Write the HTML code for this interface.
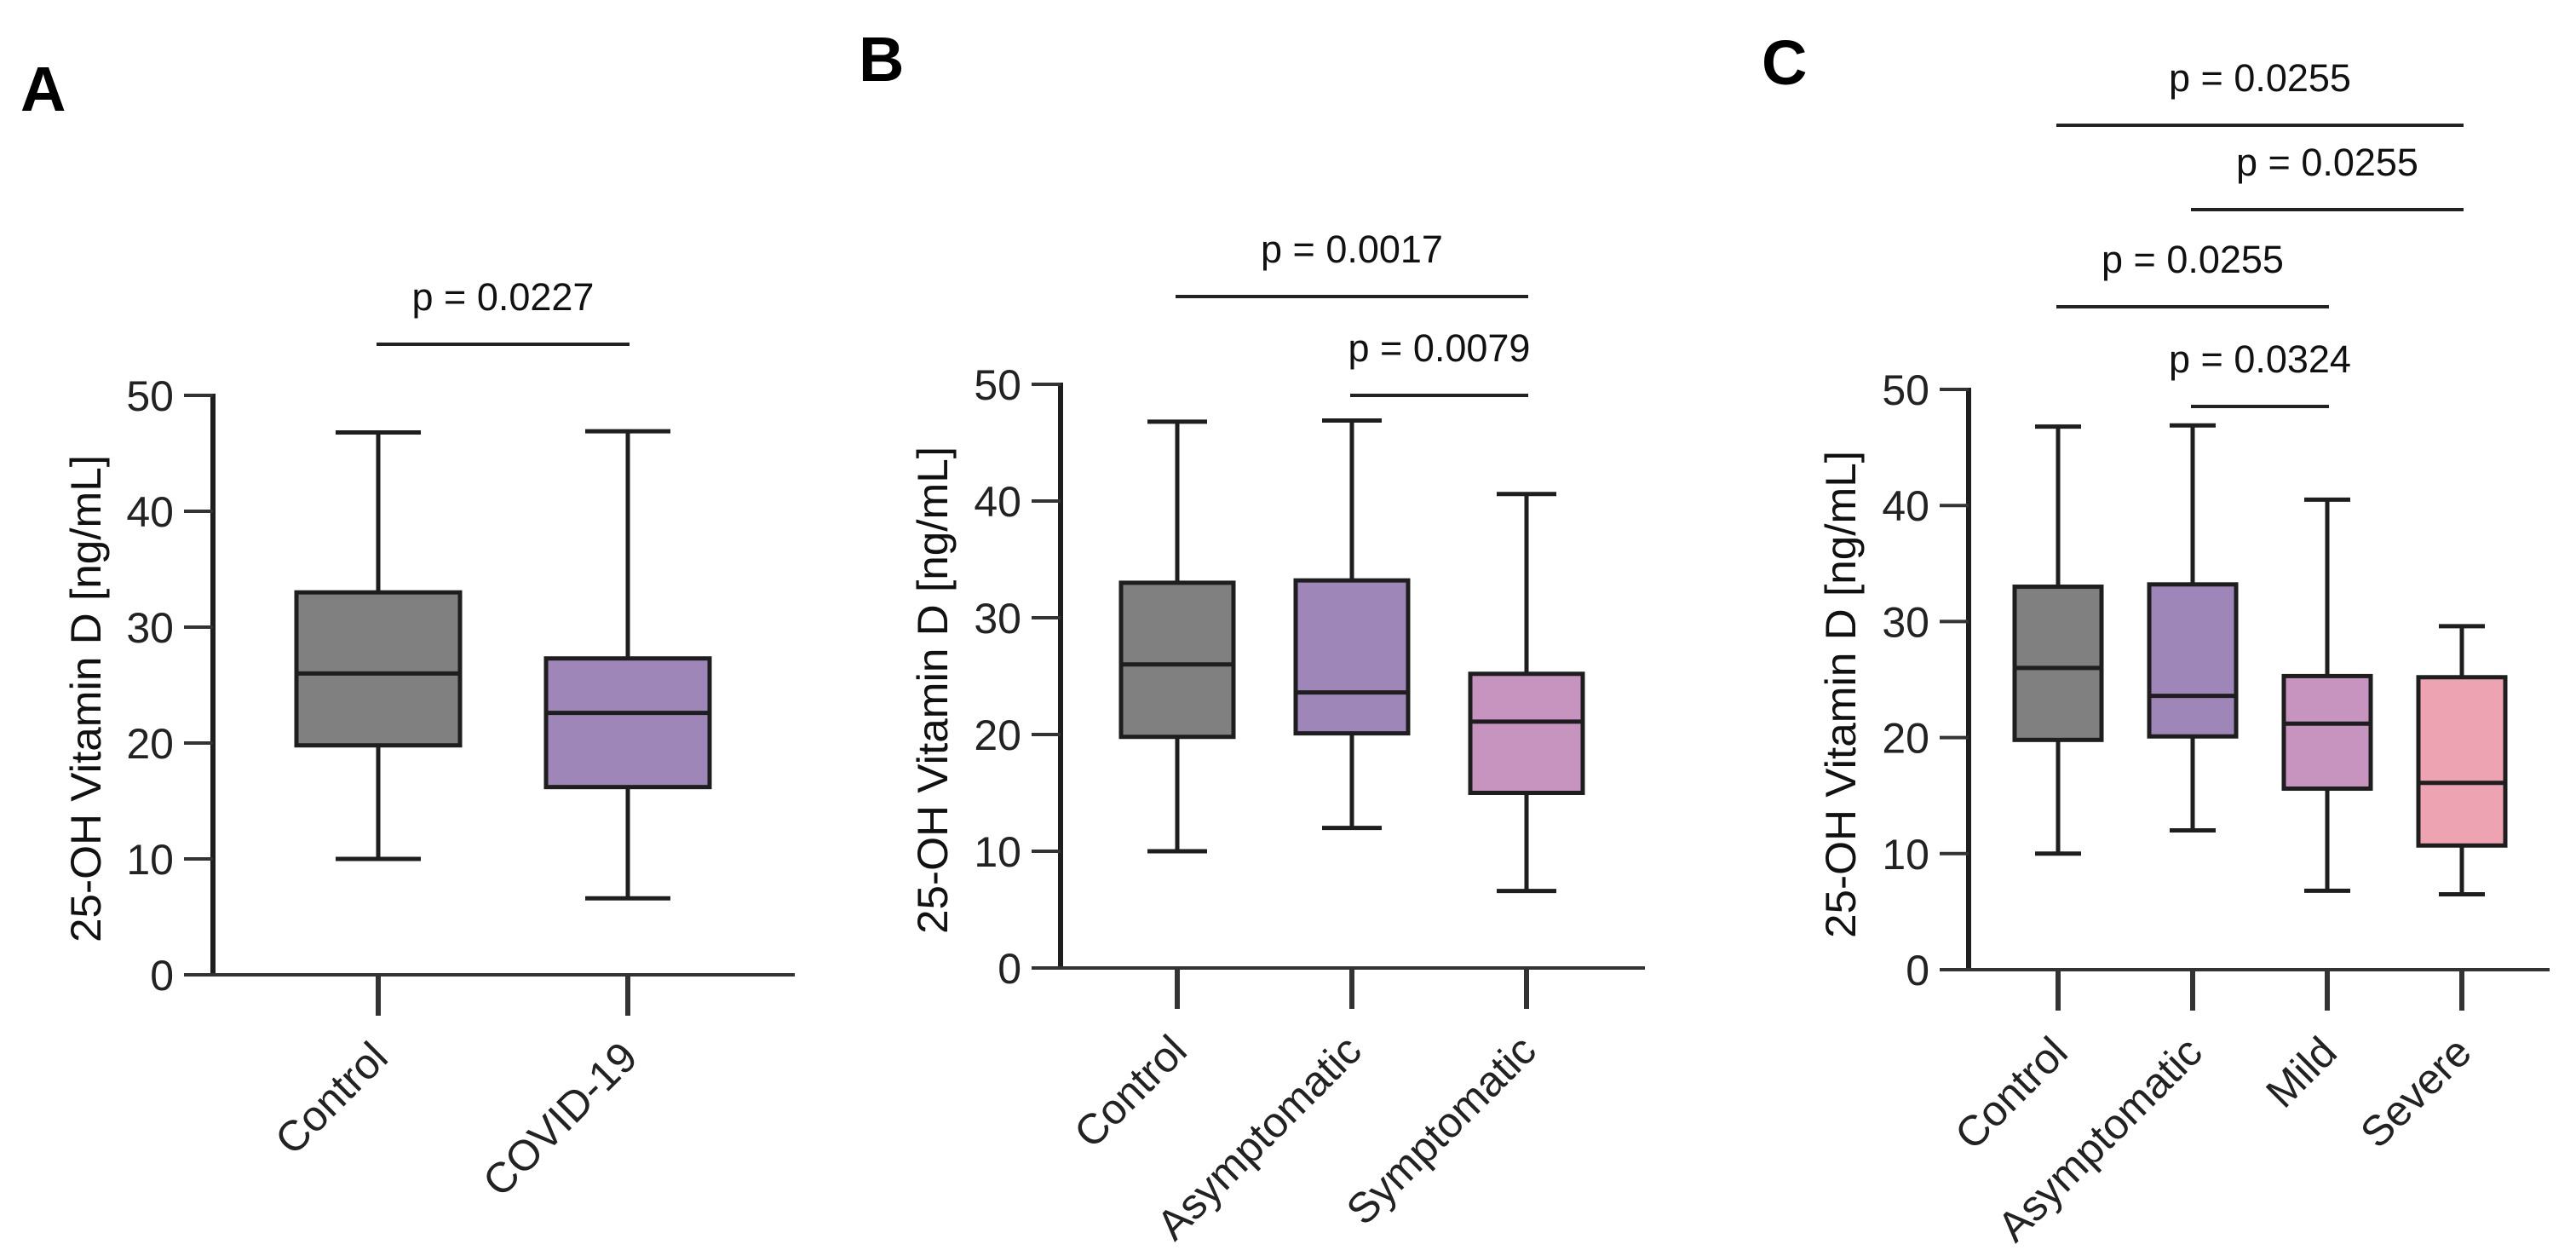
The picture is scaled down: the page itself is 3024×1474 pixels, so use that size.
<!DOCTYPE html>
<html><head><meta charset="utf-8"><style>
html,body{margin:0;padding:0;background:#fff;}
svg{display:block;font-family:"Liberation Sans",Arial,sans-serif;}
</style></head><body>
<svg id="fig" width="3024" height="1474" viewBox="0 0 3024 1474" xmlns="http://www.w3.org/2000/svg"></svg>
<script>
// Panel A data
const catsA = ["Control", "COVID-19"];
const minA = [10, 6.6];
const q1A = [19.8, 16.2];
const medA = [26, 22.6];
const q3A = [33, 27.3];
const maxA = [46.8, 46.9];
// Panel B data
const catsB = ["Control", "Asymptomatic", "Symptomatic"];
const minB = [10, 12, 6.6];
const q1B = [19.8, 20.1, 15];
const medB = [26, 23.6, 21.1];
const q3B = [33, 33.2, 25.2];
const maxB = [46.8, 46.9, 40.6];
// Panel C data
const catsC = ["Control", "Asymptomatic", "Mild", "Severe"];
const minC = [10, 12, 6.8, 6.5];
const q1C = [19.8, 20.1, 15.6, 10.7];
const medC = [26, 23.6, 21.2, 16.1];
const q3C = [33, 33.2, 25.3, 25.2];
const maxC = [46.8, 46.9, 40.5, 29.6];
// axis ticks
const yTicks = [0, 10, 20, 30, 40, 50];
// significance brackets: [fromIndex, toIndex, label]
const sigA = [[0, 1, "p = 0.0227"]];
const sigB = [[0, 2, "p = 0.0017"], [1, 2, "p = 0.0079"]];
const sigC = [[0, 3, "p = 0.0255"], [1, 3, "p = 0.0255"], [0, 2, "p = 0.0255"], [1, 2, "p = 0.0324"]];

const NS = "http://www.w3.org/2000/svg";
const svg = document.getElementById("fig");
function mk(tag, attrs, parent, text) {
  const e = document.createElementNS(NS, tag);
  for (const k in attrs) e.setAttribute(k, attrs[k]);
  if (text !== undefined) e.textContent = text;
  parent.appendChild(e);
  return e;
}

function panel(cfg) {
  const g = mk("g", {}, svg);
  
  
  const y = v => cfg.y0 - (v / 50) * (cfg.y0 - cfg.y50);
  const x = i => cfg.x0 + i * cfg.step;
  const ink = "#1e1e1e";
  const L = mk("text", {x: cfg.lx, y: cfg.ly, "font-size": 74, "font-weight": "bold", fill: "#000"}, g, cfg.letter);
  
  
  const ya = mk("line", {x1: cfg.ax, y1: y(50) - 2, x2: cfg.ax, y2: cfg.y0 + 2, stroke: ink, "stroke-width": 6}, g);
  
  
  yTicks.forEach(t => {
    const tl = mk("line", {x1: cfg.ax - 34, y1: y(t), x2: cfg.ax, y2: y(t), stroke: "#333", "stroke-width": 4}, g);
    
    
    const tt = mk("text", {x: cfg.ax - 46, y: y(t) + 18, "font-size": 50, "text-anchor": "end", fill: "#222"}, g, String(t));
    
    
  });
  const xa = mk("line", {x1: cfg.ax - 34, y1: cfg.y0, x2: cfg.xend, y2: cfg.y0, stroke: "#333", "stroke-width": 4}, g);
  
  
  const yt = mk("text", {x: 0, y: 0, "font-size": 50, "text-anchor": "middle", fill: "#111",
    transform: `translate(${cfg.tx},${cfg.ty}) rotate(-90)`, textLength: 572, lengthAdjust: "spacingAndGlyphs"}, g, "25-OH Vitamin D [ng/mL]");
  
  
  cfg.cats.forEach((c, i) => {
    const cx = x(i);
    const tk = mk("line", {x1: cx, y1: cfg.y0, x2: cx, y2: cfg.y0 + 48, stroke: "#333", "stroke-width": 6}, g);
    
    
    const lb = mk("text", {x: 0, y: 0, "font-size": 50, "text-anchor": "end", fill: "#222",
      transform: `translate(${cx + 14},${cfg.y0 + 100}) rotate(-45)`}, g, c);
    
    
    const bg = mk("g", {}, g);
    
    
    mk("line", {x1: cx, y1: y(cfg.max[i]), x2: cx, y2: y(cfg.q3[i]), stroke: ink, "stroke-width": 5}, bg);
    mk("line", {x1: cx, y1: y(cfg.q1[i]), x2: cx, y2: y(cfg.min[i]), stroke: ink, "stroke-width": 5}, bg);
    mk("line", {x1: cx - cfg.cap, y1: y(cfg.max[i]), x2: cx + cfg.cap, y2: y(cfg.max[i]), stroke: ink, "stroke-width": 5}, bg);
    mk("line", {x1: cx - cfg.cap, y1: y(cfg.min[i]), x2: cx + cfg.cap, y2: y(cfg.min[i]), stroke: ink, "stroke-width": 5}, bg);
    mk("rect", {x: cx - cfg.bw, y: y(cfg.q3[i]), width: 2 * cfg.bw, height: y(cfg.q1[i]) - y(cfg.q3[i]),
      fill: cfg.colors[i], stroke: ink, "stroke-width": 5}, bg);
    mk("line", {x1: cx - cfg.bw, y1: y(cfg.med[i]), x2: cx + cfg.bw, y2: y(cfg.med[i]), stroke: ink, "stroke-width": 5}, bg);
  });
  cfg.sig.forEach((s, k) => {
    const ly = cfg.sigY[k];
    const sl = mk("line", {x1: x(s[0]) - 2, y1: ly, x2: x(s[1]) + 2, y2: ly, stroke: "#222", "stroke-width": 4}, g);
    
    
    const st = mk("text", {x: (x(s[0]) + x(s[1])) / 2, y: ly - 40, "font-size": 45, "text-anchor": "middle", fill: "#111"}, g, s[2]);
    
    
  });
}

panel({letter: "A", lx: 24, ly: 130, ax: 250, y0: 1144, y50: 464, xend: 933, x0: 444, step: 293,
  bw: 96, cap: 50, tx: 118, ty: 820, cats: catsA, min: minA, q1: q1A, med: medA, q3: q3A, max: maxA,
  colors: ["#808080", "#9e87b8"], sig: sigA, sigY: [404]});
panel({letter: "B", lx: 1008, ly: 95, ax: 1245, y0: 1136, y50: 451, xend: 1931, x0: 1382, step: 205,
  bw: 66, cap: 35, tx: 1112, ty: 810, cats: catsB, min: minB, q1: q1B, med: medB, q3: q3B, max: maxB,
  colors: ["#808080", "#9e87b8", "#c794c0"], sig: sigB, sigY: [348, 464]});
panel({letter: "C", lx: 2068, ly: 99, ax: 2311, y0: 1138, y50: 457, xend: 2993, x0: 2416, step: 158,
  bw: 51, cap: 27, tx: 2178, ty: 815, cats: catsC, min: minC, q1: q1C, med: medC, q3: q3C, max: maxC,
  colors: ["#808080", "#9e87b8", "#c794c0", "#eea3b3"], sig: sigC, sigY: [147, 246, 360, 477]});
</script>
</body></html>
